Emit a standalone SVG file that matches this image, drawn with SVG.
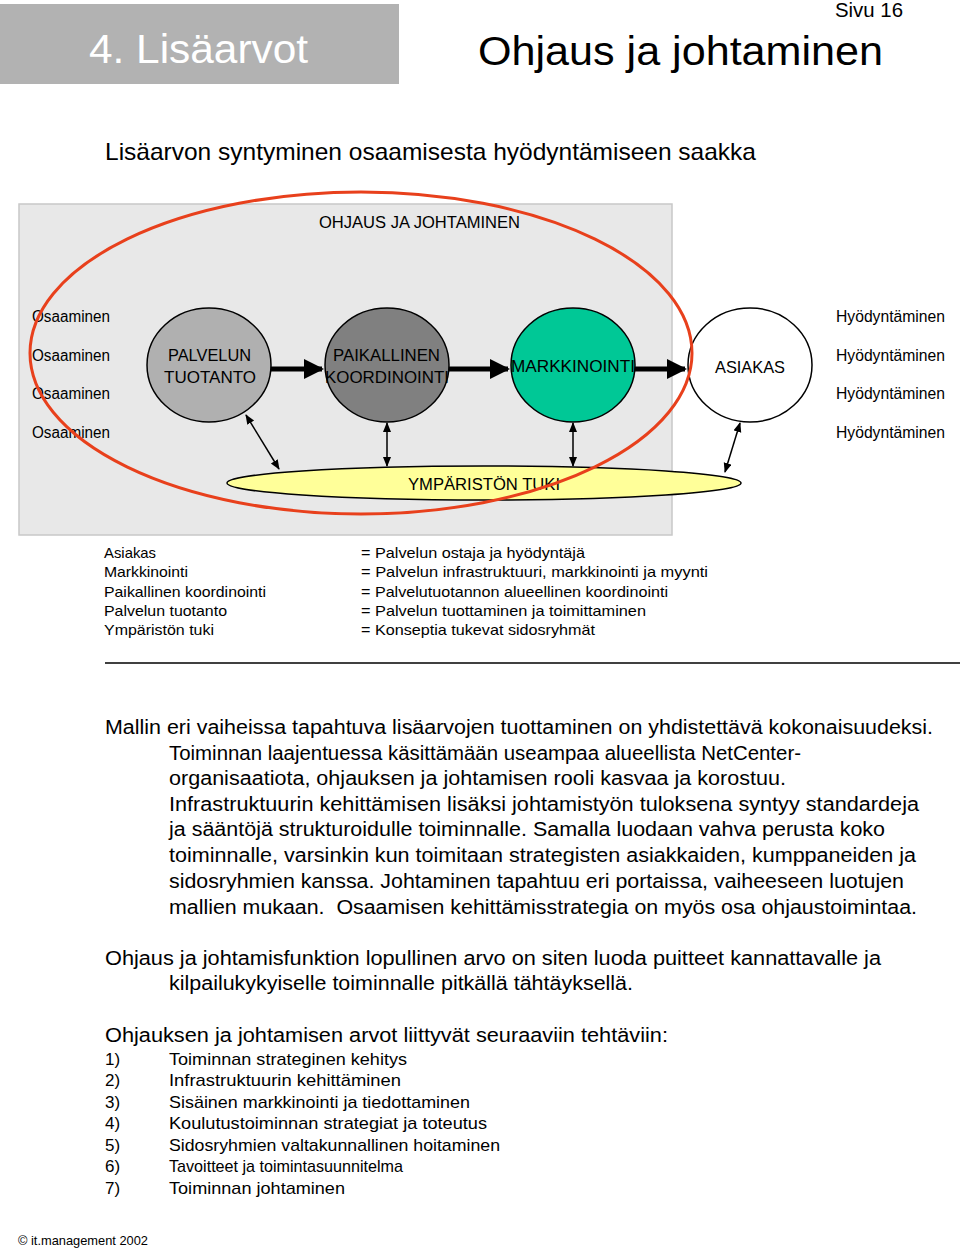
<svg xmlns="http://www.w3.org/2000/svg" width="960" height="1248" viewBox="0 0 960 1248">
<style>
text{font-family:"Liberation Sans",Arial,sans-serif;fill:#000}
.lbl{font-size:16px}
.leg{font-size:15px}
.par{font-size:20px}
.lst{font-size:17px}
.node{stroke:#000;stroke-width:1.5}
.thick{stroke:#000;stroke-width:5}
.thin{stroke:#000;stroke-width:1.5;fill:none}
</style>
<defs>
<marker id="big" markerWidth="4" markerHeight="4" refX="3.6" refY="2" orient="auto" markerUnits="strokeWidth"><path d="M0,0 L4,2 L0,4 z" fill="#000"/></marker>
<marker id="sm" markerWidth="10" markerHeight="10" refX="9" refY="4" orient="auto-start-reverse" markerUnits="userSpaceOnUse"><path d="M0,0 L10,4 L0,8 z" fill="#000"/></marker>
</defs>
<rect width="960" height="1248" fill="#fff"/>
<g id="header">
<rect x="0" y="4" width="399" height="80" fill="#b2b2b2"/>
<text x="89" y="63" font-size="40" style="fill:#fff" textLength="219" lengthAdjust="spacingAndGlyphs">4. Lisäarvot</text>
<text x="478" y="65" font-size="40" textLength="405" lengthAdjust="spacingAndGlyphs">Ohjaus ja johtaminen</text>
<text x="835" y="17" font-size="20" textLength="68" lengthAdjust="spacingAndGlyphs">Sivu 16</text>
<text x="105" y="160" font-size="24" textLength="651" lengthAdjust="spacingAndGlyphs">Lisäarvon syntyminen osaamisesta hyödyntämiseen saakka</text>
</g>
<g id="background">
<rect x="19" y="204" width="653" height="331" fill="#e8e8e8" stroke="#c8c8c8" stroke-width="1.5"/>
<text x="319" y="228" class="lbl" textLength="201" lengthAdjust="spacingAndGlyphs">OHJAUS JA JOHTAMINEN</text>
</g>
<g id="labels">
<text x="32" y="322" class="lbl" textLength="78" lengthAdjust="spacingAndGlyphs">Osaaminen</text>
<text x="32" y="361" class="lbl" textLength="78" lengthAdjust="spacingAndGlyphs">Osaaminen</text>
<text x="32" y="399" class="lbl" textLength="78" lengthAdjust="spacingAndGlyphs">Osaaminen</text>
<text x="32" y="438" class="lbl" textLength="78" lengthAdjust="spacingAndGlyphs">Osaaminen</text>
<text x="836" y="322" class="lbl" textLength="109" lengthAdjust="spacingAndGlyphs">Hyödyntäminen</text>
<text x="836" y="361" class="lbl" textLength="109" lengthAdjust="spacingAndGlyphs">Hyödyntäminen</text>
<text x="836" y="399" class="lbl" textLength="109" lengthAdjust="spacingAndGlyphs">Hyödyntäminen</text>
<text x="836" y="438" class="lbl" textLength="109" lengthAdjust="spacingAndGlyphs">Hyödyntäminen</text>
</g>
<g id="ymparisto">
<ellipse cx="484" cy="483" rx="257" ry="17" fill="#ffff99" class="node"/>
<text x="408" y="490" class="lbl" textLength="152" lengthAdjust="spacingAndGlyphs">YMPÄRISTÖN TUKI</text>
</g>
<g id="palvelun-tuotanto">
<ellipse cx="209" cy="365" rx="62" ry="57" fill="#b0b0b0" class="node"/>
<text x="168" y="361" font-size="17" textLength="83" lengthAdjust="spacingAndGlyphs">PALVELUN</text>
<text x="164" y="383" font-size="17" textLength="92" lengthAdjust="spacingAndGlyphs">TUOTANTO</text>
</g>
<g id="paikallinen-koordinointi">
<ellipse cx="387" cy="365" rx="62" ry="57" fill="#808080" class="node"/>
<text x="333" y="361" font-size="17" textLength="107" lengthAdjust="spacingAndGlyphs">PAIKALLINEN</text>
<text x="325" y="383" font-size="17" textLength="124" lengthAdjust="spacingAndGlyphs">KOORDINOINTI</text>
</g>
<g id="markkinointi">
<ellipse cx="573" cy="365" rx="62" ry="57" fill="#00c896" class="node"/>
<text x="511" y="372" font-size="17" textLength="124" lengthAdjust="spacingAndGlyphs">MARKKINOINTI</text>
</g>
<g id="asiakas">
<ellipse cx="750" cy="365" rx="62" ry="57" fill="#fff" class="node"/>
<text x="715" y="373" font-size="17" textLength="70" lengthAdjust="spacingAndGlyphs">ASIAKAS</text>
</g>
<g id="connectors">
<line x1="271" y1="369" x2="322" y2="369" class="thick" marker-end="url(#big)"/>
<line x1="449" y1="369" x2="508" y2="369" class="thick" marker-end="url(#big)"/>
<line x1="635" y1="369" x2="685" y2="369" class="thick" marker-end="url(#big)"/>
<line x1="246" y1="415" x2="279" y2="469" class="thin" marker-start="url(#sm)" marker-end="url(#sm)"/>
<line x1="387" y1="423" x2="387" y2="466" class="thin" marker-start="url(#sm)" marker-end="url(#sm)"/>
<line x1="573" y1="423" x2="573" y2="466" class="thin" marker-start="url(#sm)" marker-end="url(#sm)"/>
<line x1="740" y1="423" x2="725" y2="472" class="thin" marker-start="url(#sm)" marker-end="url(#sm)"/>
</g>
<g id="ohjaus-ellipse">
<ellipse cx="361" cy="353" rx="331" ry="161" fill="none" stroke="#e8401c" stroke-width="3"/>
</g>
<g id="legend">
<text x="104" y="558" class="leg" textLength="52" lengthAdjust="spacingAndGlyphs">Asiakas</text>
<text x="104" y="577" class="leg" textLength="84" lengthAdjust="spacingAndGlyphs">Markkinointi</text>
<text x="104" y="597" class="leg" textLength="162" lengthAdjust="spacingAndGlyphs">Paikallinen koordinointi</text>
<text x="104" y="616" class="leg" textLength="123" lengthAdjust="spacingAndGlyphs">Palvelun tuotanto</text>
<text x="104" y="635" class="leg" textLength="110" lengthAdjust="spacingAndGlyphs">Ympäristön tuki</text>
<text x="361" y="558" class="leg" textLength="224" lengthAdjust="spacingAndGlyphs">= Palvelun ostaja ja hyödyntäjä</text>
<text x="361" y="577" class="leg" textLength="347" lengthAdjust="spacingAndGlyphs">= Palvelun infrastruktuuri, markkinointi ja myynti</text>
<text x="361" y="597" class="leg" textLength="307" lengthAdjust="spacingAndGlyphs">= Palvelutuotannon alueellinen koordinointi</text>
<text x="361" y="616" class="leg" textLength="285" lengthAdjust="spacingAndGlyphs">= Palvelun tuottaminen ja toimittaminen</text>
<text x="361" y="635" class="leg" textLength="234" lengthAdjust="spacingAndGlyphs">= Konseptia tukevat sidosryhmät</text>
<line x1="105" y1="663" x2="960" y2="663" stroke="#000" stroke-width="1.5"/>
</g>
<g id="body">
<text x="105" y="734" class="par" textLength="828" lengthAdjust="spacingAndGlyphs">Mallin eri vaiheissa tapahtuva lisäarvojen tuottaminen on yhdistettävä kokonaisuudeksi.</text>
<text x="169" y="760" class="par" textLength="632" lengthAdjust="spacingAndGlyphs">Toiminnan laajentuessa käsittämään useampaa alueellista NetCenter-</text>
<text x="169" y="785" class="par" textLength="617" lengthAdjust="spacingAndGlyphs">organisaatiota, ohjauksen ja johtamisen rooli kasvaa ja korostuu.</text>
<text x="169" y="811" class="par" textLength="750" lengthAdjust="spacingAndGlyphs">Infrastruktuurin kehittämisen lisäksi johtamistyön tuloksena syntyy standardeja</text>
<text x="169" y="836" class="par" textLength="716" lengthAdjust="spacingAndGlyphs">ja sääntöjä strukturoidulle toiminnalle. Samalla luodaan vahva perusta koko</text>
<text x="169" y="862" class="par" textLength="747" lengthAdjust="spacingAndGlyphs">toiminnalle, varsinkin kun toimitaan strategisten asiakkaiden, kumppaneiden ja</text>
<text x="169" y="888" class="par" textLength="735" lengthAdjust="spacingAndGlyphs">sidosryhmien kanssa. Johtaminen tapahtuu eri portaissa, vaiheeseen luotujen</text>
<text x="169" y="914" class="par" textLength="748" lengthAdjust="spacingAndGlyphs" xml:space="preserve">mallien mukaan.  Osaamisen kehittämisstrategia on myös osa ohjaustoimintaa.</text>
<text x="105" y="965" class="par" textLength="776" lengthAdjust="spacingAndGlyphs">Ohjaus ja johtamisfunktion lopullinen arvo on siten luoda puitteet kannattavalle ja</text>
<text x="169" y="990" class="par" textLength="464" lengthAdjust="spacingAndGlyphs">kilpailukykyiselle toiminnalle pitkällä tähtäyksellä.</text>
<text x="105" y="1042" class="par" textLength="563" lengthAdjust="spacingAndGlyphs">Ohjauksen ja johtamisen arvot liittyvät seuraaviin tehtäviin:</text>
</g>
<g id="list">
<text x="105" y="1065" class="lst">1)</text>
<text x="105" y="1086" class="lst">2)</text>
<text x="105" y="1108" class="lst">3)</text>
<text x="105" y="1129" class="lst">4)</text>
<text x="105" y="1151" class="lst">5)</text>
<text x="105" y="1172" class="lst">6)</text>
<text x="105" y="1194" class="lst">7)</text>
<text x="169" y="1065" class="lst" textLength="238" lengthAdjust="spacingAndGlyphs">Toiminnan strateginen kehitys</text>
<text x="169" y="1086" class="lst" textLength="232" lengthAdjust="spacingAndGlyphs">Infrastruktuurin kehittäminen</text>
<text x="169" y="1108" class="lst" textLength="301" lengthAdjust="spacingAndGlyphs">Sisäinen markkinointi ja tiedottaminen</text>
<text x="169" y="1129" class="lst" textLength="318" lengthAdjust="spacingAndGlyphs">Koulutustoiminnan strategiat ja toteutus</text>
<text x="169" y="1151" class="lst" textLength="331" lengthAdjust="spacingAndGlyphs">Sidosryhmien valtakunnallinen hoitaminen</text>
<text x="169" y="1172" class="lst" textLength="234" lengthAdjust="spacingAndGlyphs">Tavoitteet ja toimintasuunnitelma</text>
<text x="169" y="1194" class="lst" textLength="176" lengthAdjust="spacingAndGlyphs">Toiminnan johtaminen</text>
</g>
<g id="footer">
<text x="18" y="1245" font-size="13" textLength="130" lengthAdjust="spacingAndGlyphs">© it.management 2002</text>
</g>
</svg>
